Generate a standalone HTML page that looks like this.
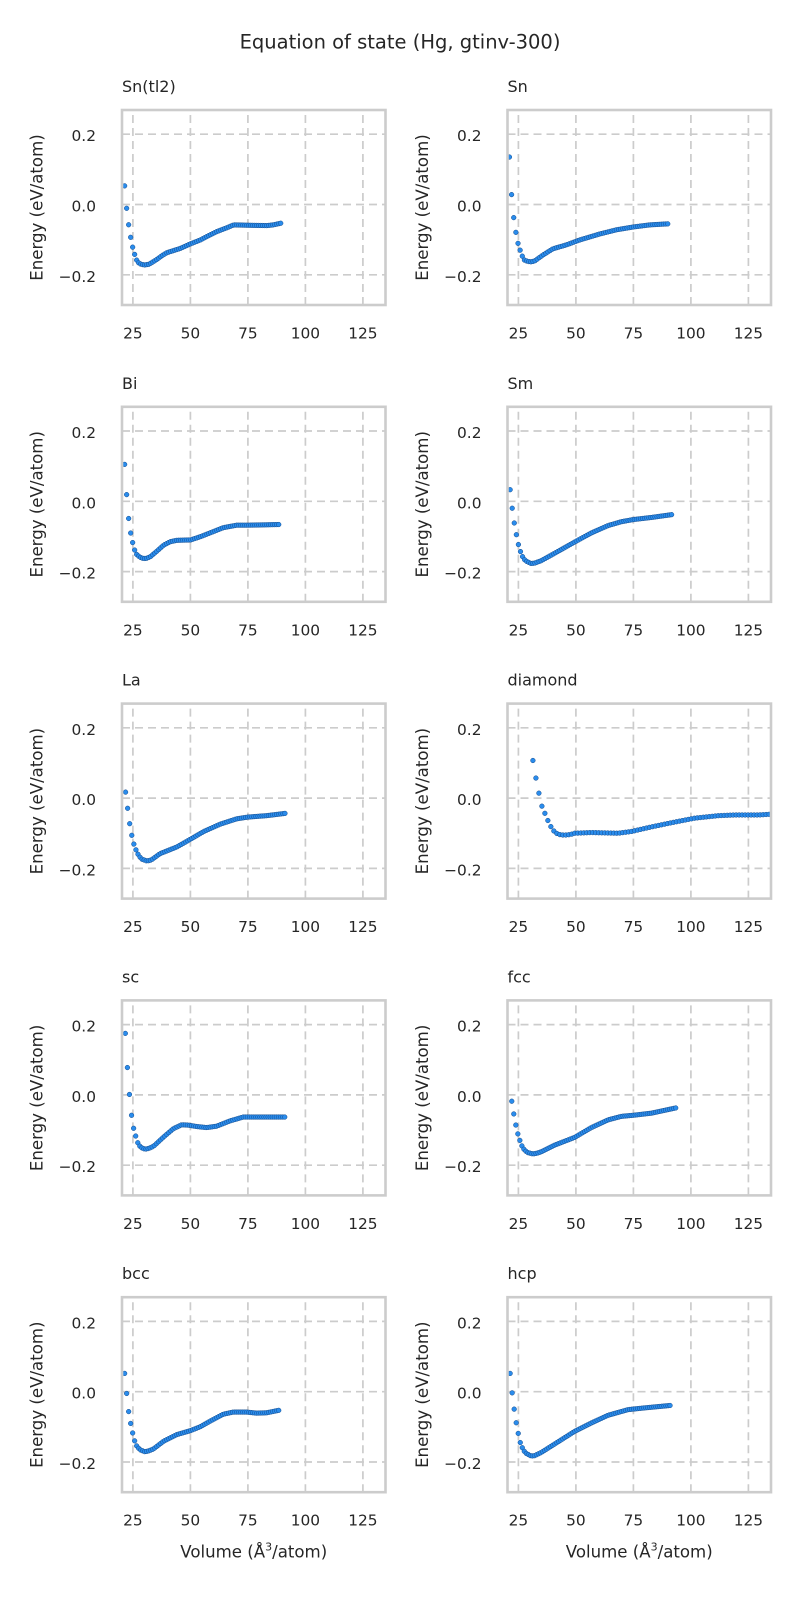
<!DOCTYPE html>
<html>
<head>
<meta charset="utf-8">
<style>
  html,body{margin:0;padding:0;background:#fff;}
  svg{display:block;}
  text{font-family:"DejaVu Sans","Liberation Sans",sans-serif;fill:#262626;}
  .sup{font-size:19.5px;}
  .ti{font-size:16px;}
  .yl{font-size:16.6px;text-anchor:middle;}
  .xl{font-size:16.6px;text-anchor:middle;}
  .yt text{font-size:15.4px;text-anchor:end;}
  .xt text{font-size:15.4px;text-anchor:middle;}
  .grid line{stroke:#cccccc;stroke-width:1.7;stroke-dasharray:8 5;}
  .spine{fill:none;stroke:#cccccc;stroke-width:2.6;}
  .pts{fill:#2a8cec;stroke:#124a8c;stroke-width:0.5;}
</style>
</head>
<body>
<svg width="800" height="1600" viewBox="0 0 800 1600" xmlns="http://www.w3.org/2000/svg">
<defs>
  <clipPath id="clip" clipPathUnits="userSpaceOnUse"><rect x="0" y="0" width="263.5" height="195"/></clipPath>
  <g id="grid" class="grid">
    <line x1="10.9" y1="195" x2="10.9" y2="0"/>
    <line x1="68.4" y1="195" x2="68.4" y2="0"/>
    <line x1="125.9" y1="195" x2="125.9" y2="0"/>
    <line x1="183.4" y1="195" x2="183.4" y2="0"/>
    <line x1="240.9" y1="195" x2="240.9" y2="0"/>
    <line x1="0" y1="24.2" x2="263.5" y2="24.2"/>
    <line x1="0" y1="94.5" x2="263.5" y2="94.5"/>
    <line x1="0" y1="164.8" x2="263.5" y2="164.8"/>
  </g>
</defs>
<rect x="0" y="0" width="800" height="1600" fill="#fff"/>
<text class="sup" x="400" y="48.3" text-anchor="middle">Equation of state (Hg, gtinv-300)</text>

<!-- Row 0 -->
<g transform="translate(122,110)">
  <use href="#grid"/>
  <g id="p0" class="pts" clip-path="url(#clip)"></g>
  <rect class="spine" x="0" y="0" width="263.5" height="195"/>
  <text class="ti" x="0" y="-18">Sn(tl2)</text>
  <text class="yl" transform="translate(-79.3,97.5) rotate(-90)">Energy (eV/atom)</text>
  <g class="yt"><text x="-26" y="31.2">0.2</text><text x="-26" y="101.5">0.0</text><text x="-26" y="171.8">−0.2</text></g>
  <g class="xt"><text x="10.9" y="228.5">25</text><text x="68.4" y="228.5">50</text><text x="125.9" y="228.5">75</text><text x="183.4" y="228.5">100</text><text x="240.9" y="228.5">125</text></g>
</g>
<g transform="translate(507.5,110)">
  <use href="#grid"/>
  <g id="p1" class="pts" clip-path="url(#clip)"></g>
  <rect class="spine" x="0" y="0" width="263.5" height="195"/>
  <text class="ti" x="0" y="-18">Sn</text>
  <text class="yl" transform="translate(-79.3,97.5) rotate(-90)">Energy (eV/atom)</text>
  <g class="yt"><text x="-26" y="31.2">0.2</text><text x="-26" y="101.5">0.0</text><text x="-26" y="171.8">−0.2</text></g>
  <g class="xt"><text x="10.9" y="228.5">25</text><text x="68.4" y="228.5">50</text><text x="125.9" y="228.5">75</text><text x="183.4" y="228.5">100</text><text x="240.9" y="228.5">125</text></g>
</g>

<!-- Row 1 -->
<g transform="translate(122,406.8)">
  <use href="#grid"/>
  <g id="p2" class="pts" clip-path="url(#clip)"></g>
  <rect class="spine" x="0" y="0" width="263.5" height="195"/>
  <text class="ti" x="0" y="-18">Bi</text>
  <text class="yl" transform="translate(-79.3,97.5) rotate(-90)">Energy (eV/atom)</text>
  <g class="yt"><text x="-26" y="31.2">0.2</text><text x="-26" y="101.5">0.0</text><text x="-26" y="171.8">−0.2</text></g>
  <g class="xt"><text x="10.9" y="228.5">25</text><text x="68.4" y="228.5">50</text><text x="125.9" y="228.5">75</text><text x="183.4" y="228.5">100</text><text x="240.9" y="228.5">125</text></g>
</g>
<g transform="translate(507.5,406.8)">
  <use href="#grid"/>
  <g id="p3" class="pts" clip-path="url(#clip)"></g>
  <rect class="spine" x="0" y="0" width="263.5" height="195"/>
  <text class="ti" x="0" y="-18">Sm</text>
  <text class="yl" transform="translate(-79.3,97.5) rotate(-90)">Energy (eV/atom)</text>
  <g class="yt"><text x="-26" y="31.2">0.2</text><text x="-26" y="101.5">0.0</text><text x="-26" y="171.8">−0.2</text></g>
  <g class="xt"><text x="10.9" y="228.5">25</text><text x="68.4" y="228.5">50</text><text x="125.9" y="228.5">75</text><text x="183.4" y="228.5">100</text><text x="240.9" y="228.5">125</text></g>
</g>

<!-- Row 2 -->
<g transform="translate(122,703.6)">
  <use href="#grid"/>
  <g id="p4" class="pts" clip-path="url(#clip)"></g>
  <rect class="spine" x="0" y="0" width="263.5" height="195"/>
  <text class="ti" x="0" y="-18">La</text>
  <text class="yl" transform="translate(-79.3,97.5) rotate(-90)">Energy (eV/atom)</text>
  <g class="yt"><text x="-26" y="31.2">0.2</text><text x="-26" y="101.5">0.0</text><text x="-26" y="171.8">−0.2</text></g>
  <g class="xt"><text x="10.9" y="228.5">25</text><text x="68.4" y="228.5">50</text><text x="125.9" y="228.5">75</text><text x="183.4" y="228.5">100</text><text x="240.9" y="228.5">125</text></g>
</g>
<g transform="translate(507.5,703.6)">
  <use href="#grid"/>
  <g id="p5" class="pts" clip-path="url(#clip)"></g>
  <rect class="spine" x="0" y="0" width="263.5" height="195"/>
  <text class="ti" x="0" y="-18">diamond</text>
  <text class="yl" transform="translate(-79.3,97.5) rotate(-90)">Energy (eV/atom)</text>
  <g class="yt"><text x="-26" y="31.2">0.2</text><text x="-26" y="101.5">0.0</text><text x="-26" y="171.8">−0.2</text></g>
  <g class="xt"><text x="10.9" y="228.5">25</text><text x="68.4" y="228.5">50</text><text x="125.9" y="228.5">75</text><text x="183.4" y="228.5">100</text><text x="240.9" y="228.5">125</text></g>
</g>

<!-- Row 3 -->
<g transform="translate(122,1000.4)">
  <use href="#grid"/>
  <g id="p6" class="pts" clip-path="url(#clip)"></g>
  <rect class="spine" x="0" y="0" width="263.5" height="195"/>
  <text class="ti" x="0" y="-18">sc</text>
  <text class="yl" transform="translate(-79.3,97.5) rotate(-90)">Energy (eV/atom)</text>
  <g class="yt"><text x="-26" y="31.2">0.2</text><text x="-26" y="101.5">0.0</text><text x="-26" y="171.8">−0.2</text></g>
  <g class="xt"><text x="10.9" y="228.5">25</text><text x="68.4" y="228.5">50</text><text x="125.9" y="228.5">75</text><text x="183.4" y="228.5">100</text><text x="240.9" y="228.5">125</text></g>
</g>
<g transform="translate(507.5,1000.4)">
  <use href="#grid"/>
  <g id="p7" class="pts" clip-path="url(#clip)"></g>
  <rect class="spine" x="0" y="0" width="263.5" height="195"/>
  <text class="ti" x="0" y="-18">fcc</text>
  <text class="yl" transform="translate(-79.3,97.5) rotate(-90)">Energy (eV/atom)</text>
  <g class="yt"><text x="-26" y="31.2">0.2</text><text x="-26" y="101.5">0.0</text><text x="-26" y="171.8">−0.2</text></g>
  <g class="xt"><text x="10.9" y="228.5">25</text><text x="68.4" y="228.5">50</text><text x="125.9" y="228.5">75</text><text x="183.4" y="228.5">100</text><text x="240.9" y="228.5">125</text></g>
</g>

<!-- Row 4 -->
<g transform="translate(122,1297.2)">
  <use href="#grid"/>
  <g id="p8" class="pts" clip-path="url(#clip)"></g>
  <rect class="spine" x="0" y="0" width="263.5" height="195"/>
  <text class="ti" x="0" y="-18">bcc</text>
  <text class="yl" transform="translate(-79.3,97.5) rotate(-90)">Energy (eV/atom)</text>
  <g class="yt"><text x="-26" y="31.2">0.2</text><text x="-26" y="101.5">0.0</text><text x="-26" y="171.8">−0.2</text></g>
  <g class="xt"><text x="10.9" y="228.5">25</text><text x="68.4" y="228.5">50</text><text x="125.9" y="228.5">75</text><text x="183.4" y="228.5">100</text><text x="240.9" y="228.5">125</text></g>
  <text class="xl" x="131.75" y="260.5">Volume (Å<tspan font-size="11px" dy="-7">3</tspan><tspan dy="7">/atom)</tspan></text>
</g>
<g transform="translate(507.5,1297.2)">
  <use href="#grid"/>
  <g id="p9" class="pts" clip-path="url(#clip)"></g>
  <rect class="spine" x="0" y="0" width="263.5" height="195"/>
  <text class="ti" x="0" y="-18">hcp</text>
  <text class="yl" transform="translate(-79.3,97.5) rotate(-90)">Energy (eV/atom)</text>
  <g class="yt"><text x="-26" y="31.2">0.2</text><text x="-26" y="101.5">0.0</text><text x="-26" y="171.8">−0.2</text></g>
  <g class="xt"><text x="10.9" y="228.5">25</text><text x="68.4" y="228.5">50</text><text x="125.9" y="228.5">75</text><text x="183.4" y="228.5">100</text><text x="240.9" y="228.5">125</text></g>
  <text class="xl" x="131.75" y="260.5">Volume (Å<tspan font-size="11px" dy="-7">3</tspan><tspan dy="7">/atom)</tspan></text>
</g>
</svg>

<script>
(function(){
  var P = [
    [21.4,0.87,89.5,[[21.4,0.053],[22.2,-0.007],[23.1,-0.056],[24.0,-0.093],[24.9,-0.122],[25.7,-0.141],[26.6,-0.158],[27.5,-0.166],[28.5,-0.170],[30,-0.172],[32,-0.170],[35,-0.158],[38,-0.144],[39.8,-0.137],[45.6,-0.125],[50,-0.112],[54.3,-0.101],[57.2,-0.091],[61.5,-0.077],[65.9,-0.066],[68.8,-0.058],[74.6,-0.059],[83.3,-0.060],[86,-0.058],[89.5,-0.053]]],
    [21.1,0.93,90.1,[[21.1,0.135],[21.9,0.038],[22.8,-0.030],[23.8,-0.076],[24.7,-0.108],[25.7,-0.129],[26.6,-0.146],[27.6,-0.158],[29,-0.162],[30.5,-0.163],[32,-0.161],[35.6,-0.144],[40,-0.126],[45.8,-0.115],[51.6,-0.101],[60.3,-0.084],[67.6,-0.072],[74.9,-0.064],[82.1,-0.058],[90.1,-0.055]]],
    [21.4,0.87,89,[[21.4,0.105],[22.3,0.016],[23.1,-0.047],[24.0,-0.090],[24.9,-0.118],[25.7,-0.138],[26.6,-0.151],[28,-0.159],[29.6,-0.163],[31,-0.162],[32.5,-0.158],[35.4,-0.142],[38.3,-0.125],[41.2,-0.115],[44.1,-0.111],[50,-0.110],[54.2,-0.101],[58.5,-0.090],[64.3,-0.075],[70.1,-0.068],[75,-0.068],[89,-0.066]]],
    [21.4,0.9,91.6,[[21.4,0.033],[22.2,-0.015],[23.1,-0.058],[24.1,-0.095],[25,-0.123],[25.9,-0.143],[26.9,-0.159],[28,-0.169],[30.5,-0.177],[32,-0.176],[34.9,-0.169],[40.7,-0.148],[49.4,-0.116],[56.7,-0.090],[64,-0.069],[69.8,-0.058],[74.9,-0.052],[82.8,-0.046],[91.6,-0.038]]],
    [21.8,0.9,91.8,[[21.8,0.017],[22.7,-0.029],[23.5,-0.069],[24.4,-0.103],[25.3,-0.129],[26.4,-0.149],[27.6,-0.165],[29,-0.174],[31.1,-0.179],[33,-0.176],[36.8,-0.158],[44.1,-0.139],[50,-0.117],[55.8,-0.095],[63,-0.074],[70.1,-0.059],[75,-0.054],[83.1,-0.050],[91.8,-0.043]]],
    [31.3,1.3,137,[[31.3,0.107],[32.6,0.057],[33.9,0.014],[35.2,-0.023],[36.8,-0.048],[38.2,-0.070],[39.5,-0.086],[40.7,-0.096],[42,-0.102],[43.6,-0.105],[46,-0.105],[48,-0.103],[49.4,-0.100],[56.7,-0.098],[68.3,-0.100],[74.1,-0.095],[82.8,-0.082],[91.6,-0.070],[101.7,-0.057],[111.9,-0.050],[119.2,-0.048],[129.4,-0.048],[137,-0.045]]],
    [21.7,0.9,91.8,[[21.7,0.175],[22.7,0.067],[23.6,-0.007],[24.4,-0.058],[25.3,-0.095],[26.2,-0.117],[27.0,-0.135],[28.2,-0.148],[29.5,-0.153],[30.8,-0.154],[32,-0.152],[34,-0.146],[38.3,-0.120],[42.6,-0.096],[46.2,-0.085],[49.1,-0.086],[52.7,-0.090],[57.1,-0.093],[61.4,-0.089],[67.2,-0.074],[73,-0.063],[91.8,-0.063]]],
    [22.1,0.88,94.2,[[22.1,-0.018],[23,-0.055],[23.8,-0.084],[24.7,-0.110],[25.6,-0.129],[26.5,-0.145],[27.6,-0.157],[29,-0.164],[31.3,-0.168],[33,-0.166],[34.9,-0.162],[40.7,-0.143],[49.4,-0.121],[56.7,-0.093],[64,-0.071],[69.8,-0.061],[74.9,-0.058],[82.8,-0.052],[94.2,-0.036]]],
    [21.4,0.87,89.2,[[21.4,0.052],[22.3,-0.007],[23.1,-0.055],[24,-0.090],[24.9,-0.118],[25.7,-0.139],[26.6,-0.154],[28,-0.165],[30.3,-0.171],[32,-0.168],[33.9,-0.163],[38.3,-0.141],[44.1,-0.122],[49.9,-0.111],[54.2,-0.100],[58.5,-0.084],[64.3,-0.064],[68.6,-0.058],[74.4,-0.058],[78.8,-0.061],[83.1,-0.060],[89.2,-0.052]]],
    [21.4,0.88,91.3,[[21.4,0.052],[22.2,0.001],[23.1,-0.047],[24,-0.087],[24.9,-0.118],[25.7,-0.143],[26.9,-0.163],[28,-0.174],[30.5,-0.183],[32,-0.182],[34.9,-0.173],[40.7,-0.149],[49.4,-0.113],[56.7,-0.089],[64,-0.067],[72.7,-0.051],[80,-0.046],[91.3,-0.039]]]
  ];
  function interp(c, v){
    if (v <= c[0][0]) return c[0][1];
    for (var i = 1; i < c.length; i++){
      if (v <= c[i][0]){
        var a = c[i-1], b = c[i];
        var t = (v - a[0]) / (b[0] - a[0]);
        return a[1] + t * (b[1] - a[1]);
      }
    }
    return c[c.length-1][1];
  }
  var NS = "http://www.w3.org/2000/svg";
  for (var i = 0; i < P.length; i++){
    var p = P[i], g = document.getElementById('p' + i);
    for (var k = 0; ; k++){
      var v = p[0] + k * p[1];
      if (v > p[2] + 1e-6) break;
      var e = interp(p[3], v);
      var c = document.createElementNS(NS, 'circle');
      c.setAttribute('cx', ((v - 20.25) * 2.3).toFixed(2));
      c.setAttribute('cy', (94.5 - e * 351.5).toFixed(2));
      c.setAttribute('r', '2.35');
      g.appendChild(c);
    }
  }
})();
</script>
</body>
</html>
